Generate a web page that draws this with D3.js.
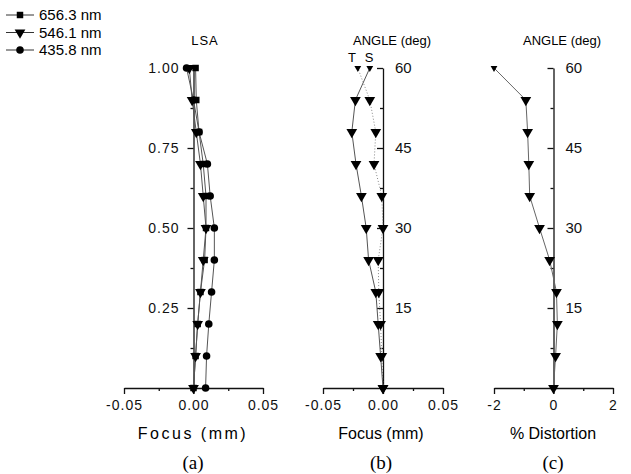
<!DOCTYPE html>
<html lang="en">
<head>
<meta charset="UTF-8" />
<script src="https://d3js.org/d3.v7.min.js"></script>
<style>
  body { margin: 0; background: #fff; }
  svg { display: block; font-family: "Liberation Sans", Arial, sans-serif; }
</style>
</head>
<body>
<svg width="631" height="474"></svg>
<script>
// panel (a) - LSA
const pupil = [0, 0.1, 0.2, 0.3, 0.4, 0.5, 0.6, 0.7, 0.8, 0.9, 1.0]
const lsa656 = [0, 0.0015, 0.003, 0.005, 0.008, 0.009, 0.009, 0.007, 0.004, 0.002, 0.0015]
const lsa546 = [0, 0.0015, 0.003, 0.005, 0.007, 0.009, 0.007, 0.005, 0.002, -0.001, -0.003]
const lsa436 = [0.0087, 0.0094, 0.011, 0.013, 0.015, 0.015, 0.012, 0.010, 0.004, 0, -0.005]
// panel (b) - astigmatic field curves, panel (c) - distortion
const angles = [0, 6, 12, 18, 24, 30, 36, 42, 48, 54, 60]
const focusT = [0, -0.002, -0.004, -0.006, -0.012, -0.014, -0.018, -0.0225, -0.026, -0.023, -0.011]
const focusS = [0, -0.001, -0.002, -0.0035, -0.004, 0, -0.001, -0.0075, -0.006, -0.011, -0.021]
const distortion = [0, 0.07, 0.13, 0.1, -0.13, -0.47, -0.8, -0.83, -0.87, -0.93, -2.0]
const legendNames = ["656.3 nm", "546.1 nm", "435.8 nm"]

const svg = d3.select("svg")
const yTop = 68, yBottom = 388

const markerPath = {
    square: d3.symbol().type(d3.symbolSquare).size(42)(),
    circle: d3.symbol().type(d3.symbolCircle).size(45)(),
    tri: d3.symbol().type(d3.symbolTriangle).size(50)(),
    triSmall: d3.symbol().type(d3.symbolTriangle).size(20)()
}
// plain hyphen instead of d3's unicode minus
const hyphen = f => d => f(d).replace("\u2212", "-")

function drawX(g, x, major, minor, fmt) {
    g.append("g").attr("transform", `translate(0,${yBottom})`)
        .call(d3.axisBottom(x).tickValues(major).tickSize(6).tickSizeOuter(0).tickPadding(6).tickFormat(hyphen(fmt)))
        .call(a => a.selectAll("text").attr("font-size", 14).attr("fill", "#111").attr("font-family", "Liberation Sans, Arial, sans-serif").attr("letter-spacing", 1))
        .call(a => a.selectAll("line,path").attr("stroke", "#111").attr("stroke-width", 1.3))
    g.append("g").attr("transform", `translate(0,${yBottom})`)
        .call(d3.axisBottom(x).tickValues(minor).tickSize(3).tickFormat(""))
        .call(a => a.select(".domain").remove())
        .call(a => a.selectAll("line").attr("stroke", "#111").attr("stroke-width", 1.3))
}

function drawSeries(g, x, y, xs, ys, opts) {
    const pts = ys.map((v, i) => [xs[i], v])
    g.append("path").datum(pts)
        .attr("fill", "none").attr("stroke", opts.stroke || "#555").attr("stroke-width", 1)
        .attr("stroke-dasharray", opts.dash || null)
        .attr("d", d3.line().x(d => x(d[0])).y(d => y(d[1])))
    g.selectAll(null).data(pts).enter().append("path")
        .attr("d", (d, i) => opts.small && i === pts.length - 1 ? markerPath.triSmall : markerPath[opts.marker])
        .attr("transform", d => `translate(${x(d[0])},${y(d[1])})` + (opts.marker.startsWith("tri") ? " rotate(180)" : ""))
        .attr("fill", "#000")
}

// ---------- panel (a)
{
    const x = d3.scaleLinear().domain([-0.05, 0.05]).range([124, 263])
    const y = d3.scaleLinear().domain([0, 1]).range([yBottom, yTop])
    const g = svg.append("g")
    drawX(g, x, [-0.05, 0, 0.05], [-0.025, 0.025], d3.format(".2f"))
    g.append("g").attr("transform", `translate(${x(0)},0)`)
        .call(d3.axisLeft(y).tickValues([0.25, 0.5, 0.75, 1]).tickSize(6).tickSizeOuter(0).tickPadding(8).tickFormat(d3.format(".2f")))
        .call(a => a.selectAll("text").attr("font-size", 14).attr("fill", "#111").attr("font-family", "Liberation Sans, Arial, sans-serif").attr("letter-spacing", 1))
        .call(a => a.selectAll("line,path").attr("stroke", "#111").attr("stroke-width", 1.3))
    g.append("g").attr("transform", `translate(${x(0)},0)`)
        .call(d3.axisLeft(y).tickValues([0.125, 0.375, 0.625, 0.875]).tickSize(3).tickFormat(""))
        .call(a => a.select(".domain").remove())
        .call(a => a.selectAll("line").attr("stroke", "#111").attr("stroke-width", 1.3))
    drawSeries(g, x, y, lsa656, pupil, { marker: "square" })
    drawSeries(g, x, y, lsa546, pupil, { marker: "tri" })
    drawSeries(g, x, y, lsa436, pupil, { marker: "circle" })
    g.append("text").attr("x", 205).attr("y", 45).attr("text-anchor", "middle").attr("font-size", 13).attr("letter-spacing", 1).text("LSA")
    g.append("text").attr("x", 193).attr("y", 439).attr("text-anchor", "middle").attr("font-size", 16).attr("letter-spacing", 2.5).text("Focus (mm)")
    g.append("text").attr("x", 193).attr("y", 469).attr("text-anchor", "middle").attr("font-size", 19).attr("font-family", "Liberation Serif, Times New Roman, serif").text("(a)")
}

function angleAxis(g, xpos, y) {
    g.append("g").attr("transform", `translate(${xpos},0)`)
        .call(d3.axisRight(y).tickValues([15, 30, 45, 60]).tickSize(-6).tickSizeOuter(0).tickPadding(12))
        .call(a => a.selectAll("text").attr("font-size", 15).attr("fill", "#111").attr("font-family", "Liberation Sans, Arial, sans-serif"))
        .call(a => a.selectAll("line,path").attr("stroke", "#111").attr("stroke-width", 1.3))
    g.append("g").attr("transform", `translate(${xpos},0)`)
        .call(d3.axisRight(y).tickValues([7.5, 22.5, 37.5, 52.5]).tickSize(-3).tickFormat(""))
        .call(a => a.select(".domain").remove())
        .call(a => a.selectAll("line").attr("stroke", "#111").attr("stroke-width", 1.3))
}

// ---------- panel (b)
{
    const x = d3.scaleLinear().domain([-0.05, 0.05]).range([323, 443])
    const y = d3.scaleLinear().domain([0, 60]).range([yBottom, yTop])
    const g = svg.append("g")
    drawX(g, x, [-0.05, 0, 0.05], [-0.025, 0.025], d3.format(".2f"))
    angleAxis(g, x(0), y)
    drawSeries(g, x, y, focusS, angles, { marker: "tri", small: true, dash: "1,2", stroke: "#888" })
    drawSeries(g, x, y, focusT, angles, { marker: "tri", small: true })
    g.append("text").attr("x", 392).attr("y", 45).attr("text-anchor", "middle").attr("font-size", 13).text("ANGLE (deg)")
    g.append("text").attr("x", 352).attr("y", 62).attr("text-anchor", "middle").attr("font-size", 13).text("T")
    g.append("text").attr("x", 369).attr("y", 62).attr("text-anchor", "middle").attr("font-size", 13).text("S")
    g.append("text").attr("x", 381).attr("y", 439).attr("text-anchor", "middle").attr("font-size", 16).text("Focus (mm)")
    g.append("text").attr("x", 381).attr("y", 469).attr("text-anchor", "middle").attr("font-size", 19).attr("font-family", "Liberation Serif, Times New Roman, serif").text("(b)")
}

// ---------- panel (c)
{
    const x = d3.scaleLinear().domain([-2, 2]).range([494, 613])
    const y = d3.scaleLinear().domain([0, 60]).range([yBottom, yTop])
    const g = svg.append("g")
    drawX(g, x, [-2, 0, 2], [-1, 1], d3.format("d"))
    angleAxis(g, x(0), y)
    drawSeries(g, x, y, distortion, angles, { marker: "tri", small: true, stroke: "#666" })
    g.append("text").attr("x", 562).attr("y", 45).attr("text-anchor", "middle").attr("font-size", 13).text("ANGLE (deg)")
    g.append("text").attr("x", 553).attr("y", 439).attr("text-anchor", "middle").attr("font-size", 16).text("% Distortion")
    g.append("text").attr("x", 553).attr("y", 469).attr("text-anchor", "middle").attr("font-size", 19).attr("font-family", "Liberation Serif, Times New Roman, serif").text("(c)")
}

// ---------- legend
{
    const g = svg.append("g")
    const kinds = ["square", "tri", "circle"]
    legendNames.forEach((name, i) => {
        const ly = 15 + i * 17.5
        g.append("line").attr("x1", 6).attr("x2", 34).attr("y1", ly).attr("y2", ly).attr("stroke", "#333").attr("stroke-width", 1)
        g.append("path").attr("d", markerPath[kinds[i]])
            .attr("transform", `translate(20,${ly})` + (kinds[i] === "tri" ? " rotate(180)" : "")).attr("fill", "#000")
        g.append("text").attr("x", 39).attr("y", ly + 5).attr("font-size", 15).text(name)
    })
}
</script>
</body>
</html>
